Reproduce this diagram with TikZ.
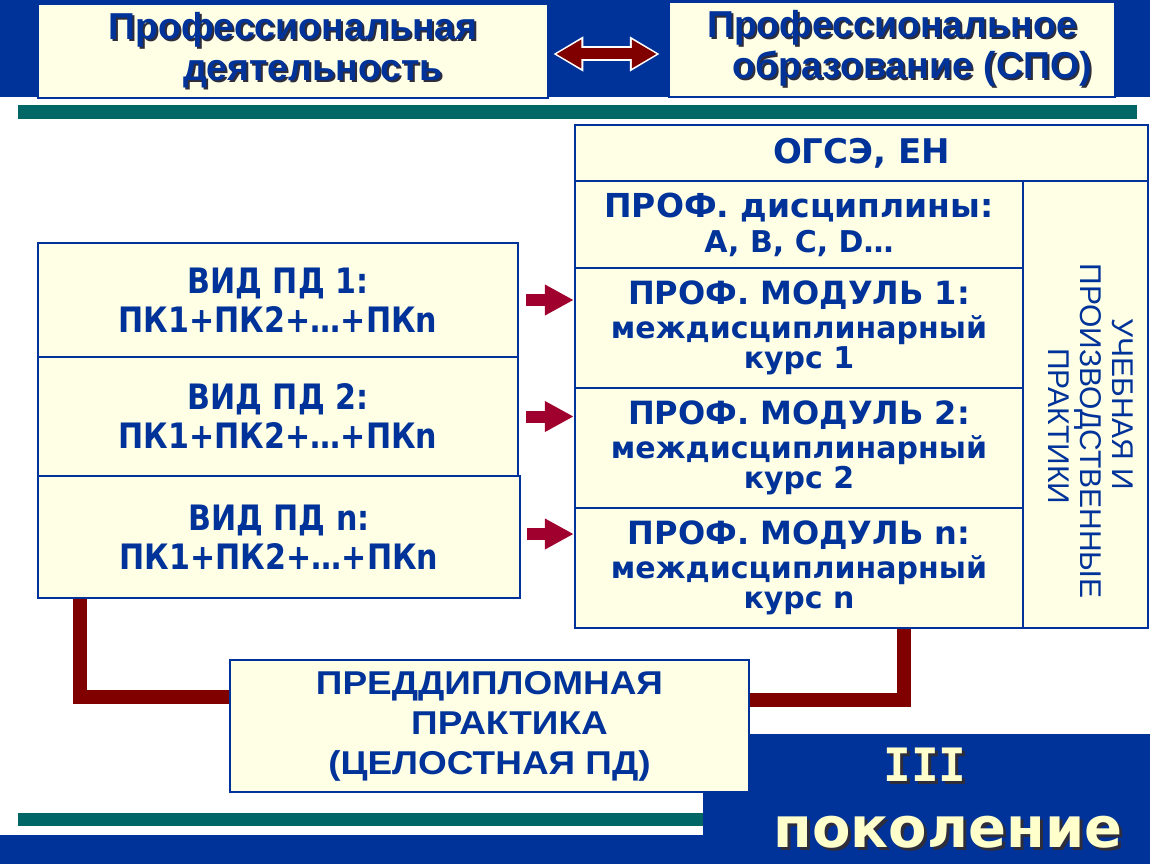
\documentclass[tikz,border=0pt]{standalone}
\usepackage{fontspec}
\usetikzlibrary{positioning}
\usetikzlibrary{shapes.geometric, arrows.meta}

\newfontfamily\titlefont{Liberation Sans}
\newfontfamily\widefont{Liberation Sans}[FakeStretch=1.12]
\newfontfamily\boxfont{DejaVu Sans}[FakeStretch=0.86]
\newfontfamily\genfont{DejaVu Sans}
\newfontfamily\romanfont{DejaVu Sans Mono}
\newfontfamily\plainfont{Liberation Sans}

\definecolor{bandblue}{RGB}{0,51,153}
\definecolor{boxfill}{RGB}{255,255,229}
\definecolor{tealbar}{RGB}{0,102,102}
\definecolor{arrowred}{RGB}{160,0,45}
\definecolor{linkred}{RGB}{128,0,0}
\definecolor{paleyellow}{RGB}{255,255,204}
\definecolor{shadowgray}{RGB}{45,45,60}

\newcommand\shline[2][2pt]{\leavevmode\rlap{\kern#1\raisebox{-#1}{\color{shadowgray}#2}}#2}
\newcommand\smalltext{\fontsize{30}{30}\selectfont}

\begin{document}
\begin{tikzpicture}[x=1pt,y=-1pt]
    \useasboundingbox (0,0) rectangle (1150,864);
    \fill[bandblue] (0,0) rectangle (1150,97);
    \fill[tealbar] (18,105) rectangle (1137,119);
    \fill[bandblue] (703,734) rectangle (1150,864);
    \fill[bandblue] (0,835) rectangle (1150,864);
    \fill[tealbar] (18,813) rectangle (703,826);

    \tikzstyle{plate} = [draw=bandblue, line width=2.5pt, fill=boxfill, text=bandblue, align=center, inner sep=0pt]
    \tikzstyle{headbox} = [plate, font=\titlefont\bfseries\fontsize{37.5}{41}\selectfont]
    \tikzstyle{pdbox} = [plate, font=\boxfont\bfseries\fontsize{35}{39}\selectfont, minimum width=480, minimum height=114]
    \tikzstyle{modbox} = [plate, font=\genfont\bfseries\fontsize{32}{30}\selectfont, minimum width=448, minimum height=120]
    \tikzstyle{feed} = [arrowred, line width=12pt, -{Triangle[length=29pt,width=29pt]}]
    \tikzstyle{bondline} = [linkred, line width=14pt]

    \node (activity) at (293,51) [headbox, minimum width=510, minimum height=94] {\shline{Профессиональная}\\\shline{\hspace{40pt}деятельность}};
    \node (education) at (892,49.5) [headbox, minimum width=446, minimum height=95] {\shline{Профессиональное}\\\shline{\hspace{40pt}образование (СПО)}};
    \draw[white, line width=15pt, {Triangle[length=30pt,width=33pt]}-{Triangle[length=30pt,width=33pt]}] ([xshift=4pt,yshift=-3pt]activity.east) -- ([yshift=-3pt,xshift=-8pt]activity.east -| education.west);
    \draw[linkred, line width=11pt, {Triangle[length=25pt,width=27pt]}-{Triangle[length=25pt,width=27pt]}] ([xshift=7pt,yshift=-3pt]activity.east) -- ([yshift=-3pt,xshift=-11pt]activity.east -| education.west);

    \node (ogse) at (861.5,153) [plate, font=\genfont\bfseries\fontsize{34}{36}\selectfont, minimum width=573, minimum height=56] {ОГСЭ, ЕН};
    \node (disc) at (799,224.5) [modbox, font=\genfont\bfseries\fontsize{33}{35}\selectfont, minimum height=87] {ПРОФ. дисциплины:\\\fontsize{30}{30}\selectfont A, B, C, D…};
    \node (mod1) at (799,328) [modbox] {ПРОФ. МОДУЛЬ 1:\\[4pt]\smalltext междисциплинарный\\\smalltext курс 1};
    \node (mod2) at (799,448) [modbox] {ПРОФ. МОДУЛЬ 2:\\[4pt]\smalltext междисциплинарный\\\smalltext курс 2};
    \node (modn) at (799,568) [modbox] {ПРОФ. МОДУЛЬ n:\\[4pt]\smalltext междисциплинарный\\\smalltext курс n};
    \node (prakt) at (1085.5,404.5) [plate, rotate=-90, font=\plainfont\fontsize{30}{32}\selectfont, minimum width=447, minimum height=125] {УЧЕБНАЯ И\\\mbox{\hspace{53pt}ПРОИЗВОДСТВЕННЫЕ}\\\mbox{\hspace{43pt}ПРАКТИКИ}\rule[-11pt]{0pt}{11pt}};

    \node (vid1) at (278,300) [pdbox] {ВИД ПД 1:\\ПК1+ПК2+…+ПКn};
    \node (vid2) at (278,416.5) [pdbox, minimum height=119] {ВИД ПД 2:\\ПК1+ПК2+…+ПКn};
    \node (vidn) at (279,537) [pdbox, minimum width=482, minimum height=122] {ВИД ПД n:\\ПК1+ПК2+…+ПКn};

    \draw[feed] ([xshift=7pt]vid1.east) -- (vid1.east -| mod1.west);
    \draw[feed] ([xshift=7pt]vid2.east) -- (vid2.east -| mod2.west);
    \draw[feed] ([xshift=6pt,yshift=3pt]vidn.east) -- ([yshift=3pt]vidn.east -| modn.west);

    \node (predip) at (489.5,726) [plate, font=\widefont\bfseries\fontsize{33}{40}\selectfont, minimum width=519, minimum height=132] {ПРЕДДИПЛОМНАЯ\\\mbox{\hspace{40pt}ПРАКТИКА}\\(ЦЕЛОСТНАЯ ПД)};
    \draw[bondline] ([xshift=43pt]vidn.south west) |- ([yshift=29pt]predip.west);
    \draw[bondline] ([yshift=26pt]predip.east) -| ([xshift=-120pt]modn.south east);

    \node (gen) at (948,800) [text=paleyellow, align=center, font=\genfont\bfseries\fontsize{56}{66}\selectfont] {\romanfont\fontsize{46}{46}\selectfont\shline[3pt]{\mbox{III\hspace{46pt}}}\\\shline[3pt]{поколение}};
\end{tikzpicture}
\end{document}
